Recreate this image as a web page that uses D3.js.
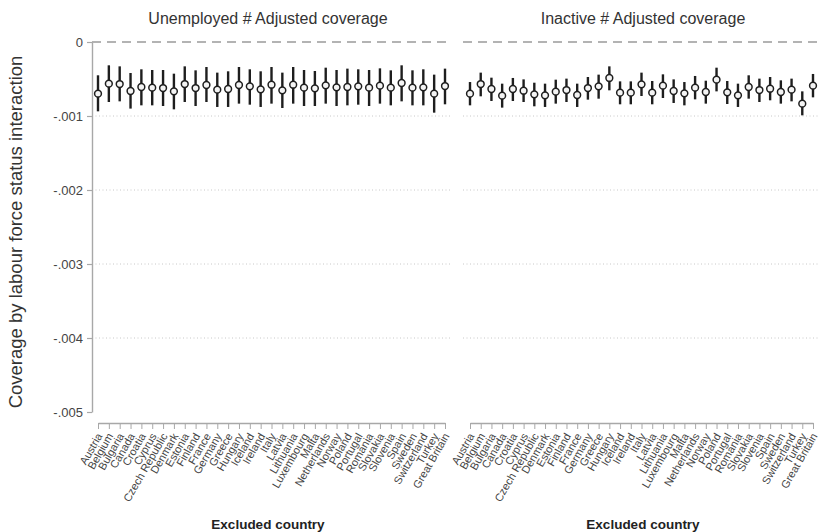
<!DOCTYPE html>
<html>
<head>
<meta charset="utf-8">
<script src="https://cdn.jsdelivr.net/npm/d3@7"></script>
<style>
    body { margin: 0; background: #fff; }
    text { font-family: "Liberation Sans", Arial, sans-serif; }
</style>
</head>
<body>
<div id="canvas"></div>
<script>
"use strict"

/* Data: excluded country and the estimate with its confidence interval */
let countries = ["Austria","Belgium","Bulgaria","Canada","Croatia","Cyprus","Czech Republic",
    "Denmark","Estonia","Finland","France","Germany","Greece","Hungary","Iceland","Ireland",
    "Italy","Latvia","Lithuania","Luxembourg","Malta","Netherlands","Norway","Poland",
    "Portugal","Romania","Slovakia","Slovenia","Spain","Sweden","Switzerland","Turkey","Great Britain"];

// Unemployed # Adjusted coverage
let unempEst = [-0.000698,-0.000563,-0.000568,-0.000662,-0.000608,-0.000617,-0.000622,
    -0.000667,-0.000568,-0.000622,-0.000581,-0.000644,-0.000635,-0.000581,-0.000599,-0.000640,
    -0.000577,-0.000653,-0.000577,-0.000617,-0.000626,-0.000586,-0.000613,-0.000608,
    -0.000599,-0.000617,-0.000590,-0.000617,-0.000554,-0.000617,-0.000613,-0.000698,-0.000595];
let unempLo = [-0.000937,-0.000811,-0.000802,-0.000900,-0.000856,-0.000856,-0.000865,
    -0.000910,-0.000811,-0.000865,-0.000811,-0.000878,-0.000878,-0.000833,-0.000847,-0.000878,
    -0.000833,-0.000892,-0.000833,-0.000865,-0.000865,-0.000833,-0.000865,-0.000856,
    -0.000847,-0.000865,-0.000833,-0.000856,-0.000802,-0.000856,-0.000856,-0.000955,-0.000842];
let unempHi = [-0.000450,-0.000315,-0.000329,-0.000419,-0.000369,-0.000378,-0.000378,
    -0.000428,-0.000329,-0.000383,-0.000338,-0.000414,-0.000396,-0.000338,-0.000369,-0.000396,
    -0.000338,-0.000414,-0.000338,-0.000378,-0.000392,-0.000347,-0.000378,-0.000360,
    -0.000369,-0.000378,-0.000356,-0.000383,-0.000315,-0.000383,-0.000369,-0.000441,-0.000360];

// Inactive # Adjusted coverage
let inactEst = [-0.000698,-0.000568,-0.000635,-0.000725,-0.000635,-0.000658,-0.000707,
    -0.000721,-0.000671,-0.000649,-0.000716,-0.000622,-0.000599,-0.000486,-0.000685,-0.000685,
    -0.000572,-0.000685,-0.000590,-0.000662,-0.000694,-0.000617,-0.000676,-0.000509,
    -0.000680,-0.000721,-0.000608,-0.000649,-0.000631,-0.000676,-0.000644,-0.000833,-0.000590];
let inactLo = [-0.000856,-0.000734,-0.000797,-0.000887,-0.000797,-0.000811,-0.000869,
    -0.000878,-0.000833,-0.000811,-0.000878,-0.000779,-0.000766,-0.000653,-0.000842,-0.000842,
    -0.000730,-0.000842,-0.000757,-0.000824,-0.000856,-0.000775,-0.000833,-0.000667,
    -0.000838,-0.000878,-0.000766,-0.000811,-0.000788,-0.000833,-0.000802,-0.000991,-0.000748];
let inactHi = [-0.000541,-0.000414,-0.000482,-0.000563,-0.000486,-0.000505,-0.000550,
    -0.000563,-0.000509,-0.000495,-0.000563,-0.000473,-0.000441,-0.000329,-0.000532,-0.000532,
    -0.000414,-0.000527,-0.000437,-0.000505,-0.000541,-0.000459,-0.000523,-0.000347,
    -0.000527,-0.000563,-0.000450,-0.000495,-0.000473,-0.000518,-0.000495,-0.000667,-0.000432];

let yTicks = [0, -0.001, -0.002, -0.003, -0.004, -0.005];
let yTickLabels = ["0", "-.001", "-.002", "-.003", "-.004", "-.005"];

let panels = [
    {title: "Unemployed # Adjusted coverage", est: unempEst, lo: unempLo, hi: unempHi,
     left: 92, right: 452, first: 98, last: 445, center: 268, showY: true},
    {title: "Inactive # Adjusted coverage", est: inactEst, lo: inactLo, hi: inactHi,
     left: 463, right: 820, first: 470, last: 813, center: 643, showY: false}
];

/* Configuration variables: drawing */
let svgWidth = 820;
let svgHeight = 532;
let plotTop = 42;
let plotBottom = 412;
let xAxisY = 423;

let svg = d3.select("#canvas")
    .append("svg")
    .attr("width", svgWidth)
    .attr("height", svgHeight);

let yScale = d3.scaleLinear()
    .domain([-0.005, 0])
    .range([plotBottom, plotTop]);

// y axis title
svg.append("text")
    .attr("transform", "rotate(-90)")
    .attr("x", -232)
    .attr("y", 17)
    .attr("text-anchor", "middle")
    .attr("dominant-baseline", "middle")
    .attr("font-size", 18.5)
    .attr("fill", "#333")
    .text("Coverage by labour force status interaction");

for (let p = 0; p < panels.length; p++) {
    let panel = panels[p];

    let xScale = d3.scalePoint()
        .domain(countries)
        .range([panel.first, panel.last]);

    // grid lines
    for (let i = 1; i < yTicks.length - 1; i++) {
        svg.append("line")
            .attr("x1", panel.left)
            .attr("x2", panel.right)
            .attr("y1", yScale(yTicks[i]))
            .attr("y2", yScale(yTicks[i]))
            .attr("stroke", "#c8c8c8")
            .attr("stroke-width", 1)
            .attr("stroke-dasharray", "1,2.5");
    }

    // reference line at zero
    svg.append("line")
        .attr("x1", panel.left)
        .attr("x2", panel.right)
        .attr("y1", yScale(0))
        .attr("y2", yScale(0))
        .attr("stroke", "#9a9a9a")
        .attr("stroke-width", 1.6)
        .attr("stroke-dasharray", "9,6");

    // y axis, left panel only
    if (panel.showY) {
        let yAxis = svg.append("g")
            .attr("transform", "translate(" + panel.left + ",0)")
            .call(d3.axisLeft(yScale)
                .tickValues(yTicks)
                .tickSize(5)
                .tickSizeOuter(0)
                .tickFormat(function(d, i) { return yTickLabels[i]; }));
        yAxis.select(".domain").attr("stroke", "#a8a8a8").attr("stroke-width", 1.4);
        yAxis.selectAll(".tick line").attr("stroke", "#a8a8a8").attr("stroke-width", 1.2);
        yAxis.selectAll(".tick text")
            .attr("x", -9)
            .attr("font-size", 13)
            .attr("font-family", "Liberation Sans, Arial, sans-serif")
            .attr("fill", "#444");
    }

    // x axis
    let xAxis = svg.append("g")
        .attr("transform", "translate(0," + xAxisY + ")")
        .call(d3.axisBottom(xScale).tickSize(6).tickSizeOuter(0));
    xAxis.select(".domain").attr("stroke", "#a8a8a8").attr("stroke-width", 1.4);
    xAxis.selectAll(".tick line").attr("stroke", "#a8a8a8").attr("stroke-width", 1);
    xAxis.selectAll(".tick text")
        .attr("x", 0)
        .attr("y", 0)
        .attr("dy", "0.35em")
        .attr("transform", "translate(1,11) rotate(-60)")
        .attr("text-anchor", "end")
        .attr("font-size", 11)
        .attr("font-family", "Liberation Sans, Arial, sans-serif")
        .attr("fill", "#444");

    // confidence intervals
    svg.append("g")
        .selectAll("line")
        .data(countries)
        .join("line")
        .attr("x1", function(d) { return xScale(d); })
        .attr("x2", function(d) { return xScale(d); })
        .attr("y1", function(d, i) { return yScale(panel.lo[i]); })
        .attr("y2", function(d, i) { return yScale(panel.hi[i]); })
        .attr("stroke", "#1e1e1e")
        .attr("stroke-width", 2.4);

    // point estimates
    svg.append("g")
        .selectAll("circle")
        .data(countries)
        .join("circle")
        .attr("cx", function(d) { return xScale(d); })
        .attr("cy", function(d, i) { return yScale(panel.est[i]); })
        .attr("r", 3.4)
        .attr("fill", "#f4f4f4")
        .attr("stroke", "#1e1e1e")
        .attr("stroke-width", 1.5);

    // panel title
    svg.append("text")
        .attr("x", panel.center)
        .attr("y", 20)
        .attr("text-anchor", "middle")
        .attr("dominant-baseline", "middle")
        .attr("font-size", 16)
        .attr("fill", "#333")
        .text(panel.title);

    // x axis title
    svg.append("text")
        .attr("x", panel.center)
        .attr("y", 525)
        .attr("text-anchor", "middle")
        .attr("dominant-baseline", "middle")
        .attr("font-size", 13.5)
        .attr("font-weight", "bold")
        .attr("fill", "#222")
        .text("Excluded country");
}
</script>
</body>
</html>
